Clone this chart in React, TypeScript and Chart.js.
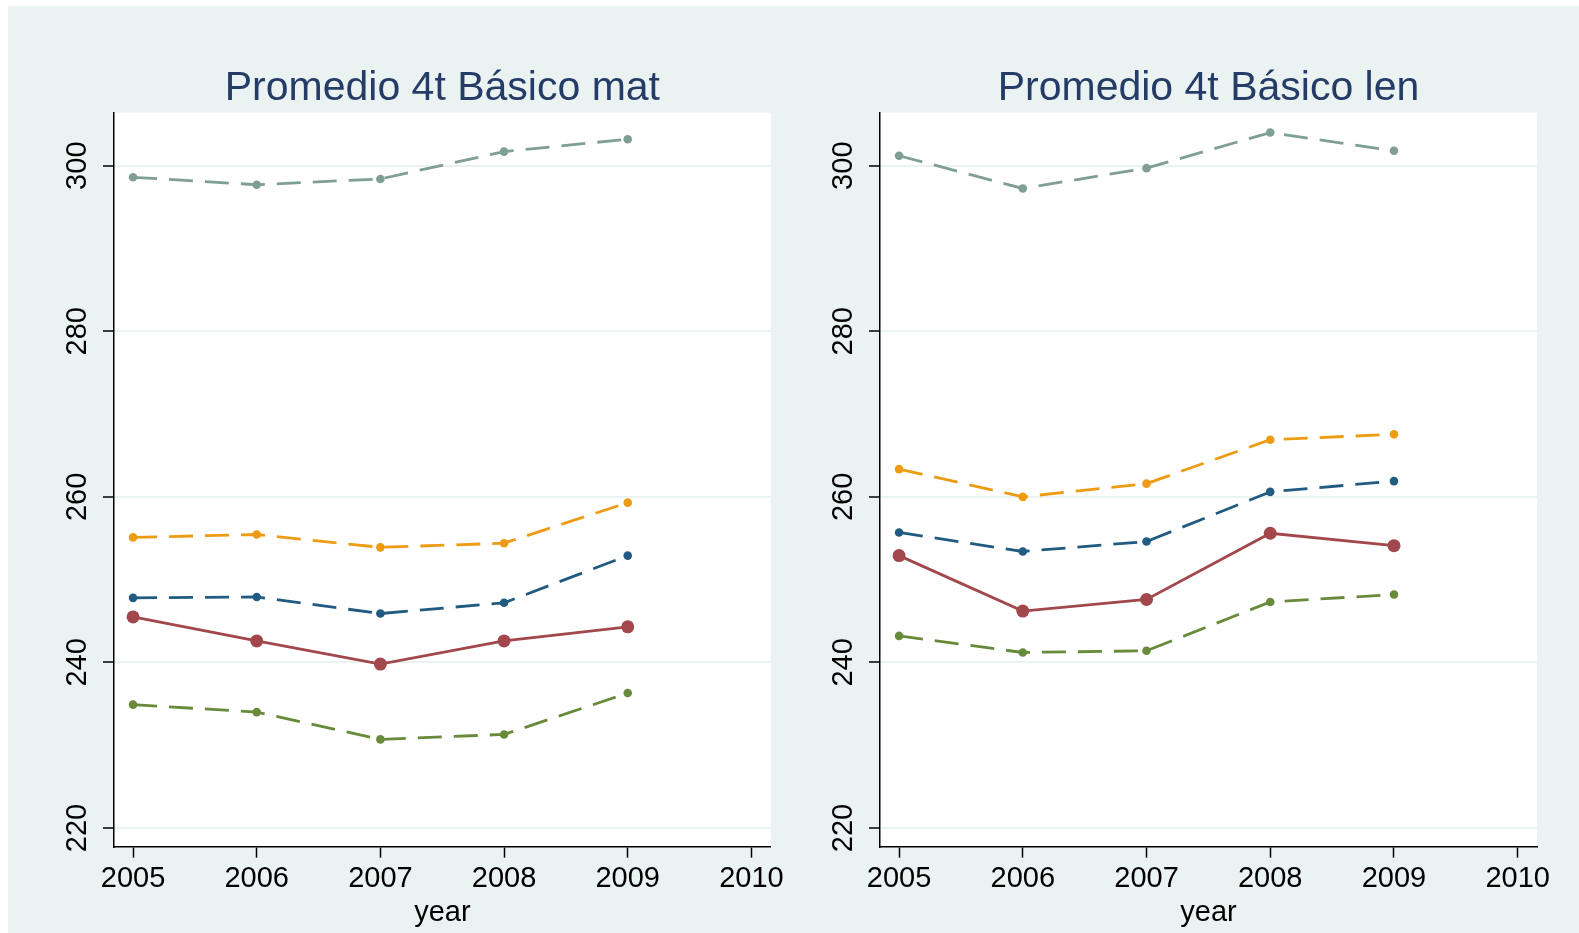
import React, { useEffect, useRef } from "react";
import { Chart, registerables } from "chart.js";

Chart.register(...registerables);

// ---- data ----
const YEARS = [2005, 2006, 2007, 2008, 2009];
const X_TICK_VALUES = [2005, 2006, 2007, 2008, 2009, 2010];
const Y_TICK_VALUES = [220, 240, 260, 280, 300];

const TITLE_MAT = "Promedio 4t Básico mat";
const TITLE_LEN = "Promedio 4t Básico len";
const X_TITLE = "year";

const matGray = [298.6, 297.7, 298.4, 301.7, 303.2];
const matOrange = [255.1, 255.45, 253.9, 254.4, 259.3];
const matBlue = [247.8, 247.9, 245.9, 247.2, 252.9];
const matRed = [245.5, 242.6, 239.8, 242.6, 244.3];
const matGreen = [234.9, 234.0, 230.7, 231.3, 236.3];

const lenGray = [301.2, 297.25, 299.7, 304.0, 301.8];
const lenOrange = [263.35, 260.0, 261.6, 266.9, 267.55];
const lenBlue = [255.7, 253.4, 254.6, 260.6, 261.9];
const lenRed = [252.9, 246.2, 247.6, 255.6, 254.1];
const lenGreen = [243.2, 241.2, 241.4, 247.3, 248.2];

// ---- styles ----
const BG = "#EBF3F2";
const FONT = "'Liberation Sans', Arial, Helvetica, sans-serif";
const C_GRAY = "#7f9e95";
const C_ORANGE = "#ee9b14";
const C_BLUE = "#215b82";
const C_RED = "#a2474c";
const C_GREEN = "#688a3b";

const X_MIN = 2004.846;
const X_MAX = 2010.156;
const Y_MIN = 217.74;
const Y_MAX = 306.4;

type SeriesDef = { values: number[]; color: string; solid: boolean };

const plotBg = {
  id: "plotBg",
  beforeDraw(chart: any) {
    const { ctx, chartArea } = chart;
    ctx.save();
    ctx.fillStyle = "#ffffff";
    ctx.fillRect(chartArea.left, chartArea.top, chartArea.right - chartArea.left, chartArea.bottom - chartArea.top);
    ctx.restore();
  },
};

const panelTitle = {
  id: "panelTitle",
  afterDraw(chart: any, _args: any, opts: any) {
    const { ctx, chartArea } = chart;
    ctx.save();
    ctx.font = `${opts.size}px ${FONT}`;
    ctx.fillStyle = opts.color;
    ctx.textAlign = "center";
    ctx.textBaseline = "alphabetic";
    ctx.fillText(opts.text, (chartArea.left + chartArea.right) / 2, opts.baseline);
    ctx.restore();
  },
};

function Panel(props: {
  title: string;
  series: SeriesDef[];
  left: number;
  width: number;
  yAxisWidth: number;
  padRight: number;
}) {
  const ref = useRef<HTMLCanvasElement | null>(null);
  useEffect(() => {
    if (!ref.current) return;
    const datasets = props.series.map((s) => ({
      data: YEARS.map((yr, i) => ({ x: yr, y: s.values[i] })),
      borderColor: s.color,
      backgroundColor: s.color,
      pointBackgroundColor: s.color,
      pointBorderColor: s.color,
      pointBorderWidth: 0,
      pointRadius: s.solid ? 6.5 : 4.3,
      borderWidth: 2.8,
      borderDash: s.solid ? [] : [24, 12],
      tension: 0,
      fill: false,
    }));
    const chart = new Chart(ref.current, {
      type: "line",
      data: { datasets },
      plugins: [plotBg, panelTitle],
      options: {
        animation: false,
        responsive: false,
        maintainAspectRatio: false,
        layout: { padding: { left: 0, right: props.padRight, top: 106.7, bottom: 0 } },
        plugins: {
          legend: { display: false },
          tooltip: { enabled: false },
          panelTitle: { text: props.title, size: 41, color: "#243c67", baseline: 94 },
        } as any,
        scales: {
          x: {
            type: "linear",
            min: X_MIN,
            max: X_MAX,
            afterBuildTicks: (scale: any) => {
              scale.ticks = X_TICK_VALUES.map((v) => ({ value: v }));
            },
            afterFit: (scale: any) => {
              scale.height = 86.3;
            },
            ticks: {
              includeBounds: false,
              stepSize: 1,
              autoSkip: false,
              maxRotation: 0,
              minRotation: 0,
              padding: 4,
              color: "#000",
              font: { family: FONT, size: 29 },
              callback: (v: any) => String(v),
            },
            grid: {
              drawOnChartArea: false,
              drawTicks: true,
              tickLength: 11,
              tickColor: "#000",
              tickWidth: 1.5,
              color: BG,
            },
            border: { display: true, color: "#000", width: 1.5 },
            title: {
              display: true,
              text: X_TITLE,
              color: "#000",
              font: { family: FONT, size: 29 },
              padding: { top: 0, bottom: 3 },
            },
          },
          y: {
            type: "linear",
            min: Y_MIN,
            max: Y_MAX,
            afterBuildTicks: (scale: any) => {
              scale.ticks = Y_TICK_VALUES.map((v) => ({ value: v }));
            },
            afterFit: (scale: any) => {
              scale.width = props.yAxisWidth;
            },
            ticks: {
              includeBounds: false,
              stepSize: 20,
              minRotation: 90,
              maxRotation: 90,
              crossAlign: "center",
              padding: 1,
              color: "#000",
              font: { family: FONT, size: 29 },
              callback: (v: any) => String(v),
            },
            grid: {
              drawOnChartArea: true,
              drawTicks: true,
              tickLength: 11,
              tickColor: "#000",
              tickWidth: 1.5,
              color: BG,
              lineWidth: 2,
            },
            border: { display: true, color: "#000", width: 1.5 },
          },
        },
      } as any,
    });
    return () => chart.destroy();
  }, []);
  return (
    <canvas
      ref={ref}
      width={props.width}
      height={927}
      style={{ position: "absolute", left: props.left, top: 6, width: props.width, height: 927 }}
    />
  );
}

export default function App() {
  const matSeries: SeriesDef[] = [
    { values: matGray, color: C_GRAY, solid: false },
    { values: matOrange, color: C_ORANGE, solid: false },
    { values: matBlue, color: C_BLUE, solid: false },
    { values: matGreen, color: C_GREEN, solid: false },
    { values: matRed, color: C_RED, solid: true },
  ];
  const lenSeries: SeriesDef[] = [
    { values: lenGray, color: C_GRAY, solid: false },
    { values: lenOrange, color: C_ORANGE, solid: false },
    { values: lenBlue, color: C_BLUE, solid: false },
    { values: lenGreen, color: C_GREEN, solid: false },
    { values: lenRed, color: C_RED, solid: true },
  ];
  return (
    <div style={{ position: "fixed", left: 0, top: 0, width: 1579, height: 933, background: "#ffffff", overflow: "hidden" }}>
      <div style={{ position: "absolute", left: 8, top: 6, width: 1571, height: 927, background: BG }} />
      <Panel title={TITLE_MAT} series={matSeries} left={8} width={782} yAxisWidth={106} padRight={19.3} />
      <Panel title={TITLE_LEN} series={lenSeries} left={790} width={789} yAxisWidth={90} padRight={42} />
    </div>
  );
}
